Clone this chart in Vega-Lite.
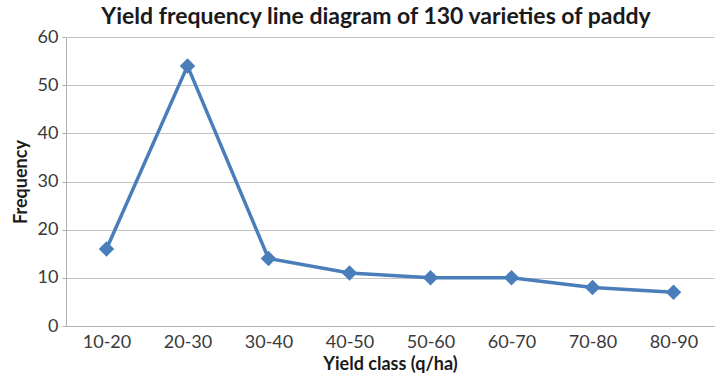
{
  "$schema": "https://vega.github.io/schema/vega-lite/v6.json",
  "autosize": "none",
  "width": 648,
  "height": 289,
  "padding": {"left": 66, "top": 37, "right": 3, "bottom": 53},
  "background": "white",
  "title": {
    "text": "Yield frequency  line diagram of 130 varieties of paddy",
    "font": "Lato",
    "fontSize": 23,
    "fontWeight": "bold",
    "color": "#1a1a1a",
    "anchor": "middle",
    "dx": -14,
    "offset": -1
  },
  "data": {
    "values": [
      {"cls": "10-20", "freq": 16},
      {"cls": "20-30", "freq": 54},
      {"cls": "30-40", "freq": 14},
      {"cls": "40-50", "freq": 11},
      {"cls": "50-60", "freq": 10},
      {"cls": "60-70", "freq": 10},
      {"cls": "70-80", "freq": 8},
      {"cls": "80-90", "freq": 7}
    ]
  },
  "config": {
    "view": {"stroke": null},
    "axis": {
      "labelFont": "Lato",
      "titleFont": "Lato",
      "labelFontSize": 18,
      "labelColor": "#3a3a3a",
      "titleFontSize": 18,
      "titleFontWeight": "bold",
      "titleColor": "#1a1a1a",
      "domainColor": "#b0b0b0",
      "gridColor": "#c4c4c4",
      "tickColor": "#b0b0b0"
    }
  },
  "encoding": {
    "x": {
      "field": "cls",
      "type": "ordinal",
      "title": "Yield class (q/ha)",
      "scale": {"paddingInner": 0, "paddingOuter": 0},
      "axis": {"labelAngle": 0, "labelPadding": 7, "titlePadding": 4, "grid": false, "ticks": false}
    },
    "y": {
      "field": "freq",
      "type": "quantitative",
      "title": "Frequency",
      "scale": {"domain": [0, 60], "nice": false},
      "axis": {"values": [0, 10, 20, 30, 40, 50, 60], "ticks": true, "tickSize": 4, "labelPadding": 4, "titlePadding": 7, "domain": true}
    }
  },
  "layer": [
    {"mark": {"type": "line", "color": "#4a7ebb", "strokeWidth": 3.5}},
    {"mark": {"type": "point", "shape": "diamond", "filled": true, "color": "#4a7ebb", "size": 240, "opacity": 1}}
  ]
}
